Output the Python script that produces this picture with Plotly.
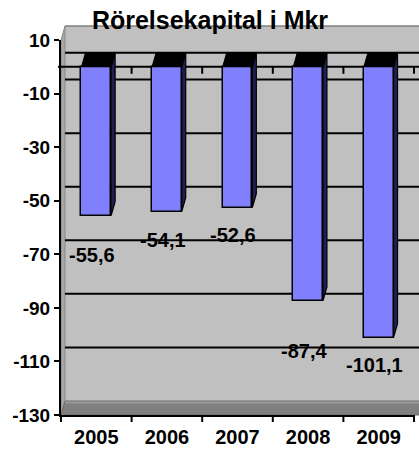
import plotly.graph_objects as go

# ---- data ----
years = ["2005", "2006", "2007", "2008", "2009"]
values = [-55.6, -54.1, -52.6, -87.4, -101.1]
y_ticks = [10, -10, -30, -50, -70, -90, -110, -130]
title_text = "Rörelsekapital i Mkr"

# ---- layout / style settings (not data) ----
label_dy = [-14.7, -10.6, -10.2, -18.7, -10.2]   # data-label placement (Excel 3D style)
label_dx = -0.06
W, H = 419, 450
ML, MR, MT, MB = 61, 5, 40, 35
PW, PH = W - ML - MR, H - MT - MB
YMIN, YMAX = -130, 10
BAR_W = 0.42
DEPTH_PX_X, DEPTH_PX_Y = 4, 14
FONT = "Liberation Sans, Arial, sans-serif"

n = len(years)
xs = list(range(n))
cat_px = PW / n
DXc = DEPTH_PX_X / cat_px                      # depth in category units
DYv = DEPTH_PX_Y * (YMAX - YMIN) / PH           # depth in value units
DXp = DEPTH_PX_X / PW                            # depth in paper units
DYp = DEPTH_PX_Y / PH
XR = 1 + MR / PW + 0.01                          # right edge beyond plot


def yp(v):
    return (v - YMIN) / (YMAX - YMIN)


fig = go.Figure()
fig.add_trace(go.Bar(
    x=xs, y=values, width=BAR_W,
    marker=dict(color="#8080FF", line=dict(color="black", width=1.5)),
    hoverinfo="skip",
))

shapes = []
# back wall
shapes.append(dict(type="rect", xref="paper", yref="paper", x0=DXp, x1=XR,
                   y0=DYp, y1=1 + DYp, fillcolor="#C0C0C0",
                   line=dict(width=0), layer="below"))
# wall top edge
shapes.append(dict(type="line", xref="paper", yref="paper", x0=DXp, x1=XR,
                   y0=1 + DYp, y1=1 + DYp, line=dict(color="#808080", width=1.5),
                   layer="below"))
# left side wall
shapes.append(dict(type="path", xref="paper", yref="paper",
                   path=f"M 0,0 L {DXp},{DYp} L {DXp},{1+DYp} L 0,1 Z",
                   fillcolor="#A6A6A6", line=dict(color="#8a8a8a", width=1),
                   layer="below"))
# floor
shapes.append(dict(type="path", xref="paper", yref="paper",
                   path=f"M 0,0 L {DXp},{DYp} L {XR},{DYp} L {XR},0 Z",
                   fillcolor="#808080", line=dict(color="#6a6a6a", width=1),
                   layer="below"))
shapes.append(dict(type="line", xref="paper", yref="paper", x0=DXp, x1=XR,
                   y0=DYp - 1.5 / PH, y1=DYp - 1.5 / PH,
                   line=dict(color="#999999", width=2), layer="below"))
# back gridlines (ticks + zero plane edge)
for v in [t for t in y_ticks if YMIN < t < YMAX] + [0]:
    shapes.append(dict(type="line", xref="paper", yref="paper", x0=DXp, x1=XR,
                       y0=yp(v) + DYp, y1=yp(v) + DYp,
                       line=dict(color="black", width=2), layer="below"))
# front zero line with small category ticks
shapes.append(dict(type="line", xref="paper", yref="paper", x0=-3 / PW, x1=XR,
                   y0=yp(0), y1=yp(0), line=dict(color="black", width=2),
                   layer="below"))
for i in range(n):
    xb = (i + 1) / n
    shapes.append(dict(type="line", xref="paper", yref="paper", x0=xb, x1=xb,
                       y0=yp(0), y1=yp(0) - 7 / PH,
                       line=dict(color="black", width=2), layer="below"))
# bottom axis boundary ticks
for i in range(n + 1):
    xb = i / n
    shapes.append(dict(type="line", xref="paper", yref="paper", x0=xb, x1=xb,
                       y0=0, y1=-7 / PH, line=dict(color="black", width=2)))

# 3D faces of bars
for i, v in enumerate(values):
    xl, xr = i - BAR_W / 2, i + BAR_W / 2
    # right side face
    shapes.append(dict(type="path", xref="x", yref="y",
                       path=f"M {xr},0 L {xr+DXc},{DYv} L {xr+DXc},{v+DYv} L {xr},{v} Z",
                       fillcolor="#202050", line=dict(color="black", width=1.2),
                       layer="above"))
    # top face
    shapes.append(dict(type="path", xref="x", yref="y",
                       path=f"M {xl},0 L {xr},0 L {xr+DXc},{DYv} L {xl+DXc},{DYv} Z",
                       fillcolor="black", line=dict(color="black", width=1),
                       layer="above"))

annotations = []
for i, v in enumerate(values):
    annotations.append(dict(
        x=i + label_dx, y=v + label_dy[i], xref="x", yref="y",
        text=f"{v:.1f}".replace(".", ","), showarrow=False,
        font=dict(family=FONT, size=20, color="black", weight="bold"),
        xanchor="center", yanchor="middle"))

fig.update_layout(
    width=W, height=H,
    margin=dict(l=ML, r=MR, t=MT, b=MB, autoexpand=False),
    paper_bgcolor="white", plot_bgcolor="rgba(0,0,0,0)",
    showlegend=False,
    title=dict(text=title_text, x=210 / W, xref="container", xanchor="center",
               y=1 - 20 / H, yref="container", yanchor="middle",
               font=dict(family=FONT, size=25, color="black", weight="bold")),
    shapes=shapes, annotations=annotations,
    bargap=0,
)
fig.update_xaxes(range=[-0.5, n - 0.5], tickvals=xs, ticktext=years,
                 showgrid=False, zeroline=False, showline=True,
                 linecolor="black", linewidth=2, automargin=False,
                 ticks="outside", tickcolor="rgba(0,0,0,0)", ticklen=3,
                 tickfont=dict(family=FONT, size=20, color="black", weight="bold"))
fig.update_yaxes(range=[YMIN, YMAX], tickvals=y_ticks,
                 ticktext=[str(t) for t in y_ticks],
                 showgrid=False, zeroline=False, showline=True,
                 linecolor="black", linewidth=2, automargin=False,
                 ticks="outside", ticklen=5, tickwidth=2, tickcolor="black",
                 tickfont=dict(family=FONT, size=19, color="black", weight="bold"))

fig.write_html("out.html", config={"displayModeBar": False},
               post_script="document.body.style.margin='0';document.body.style.overflow='hidden';")
